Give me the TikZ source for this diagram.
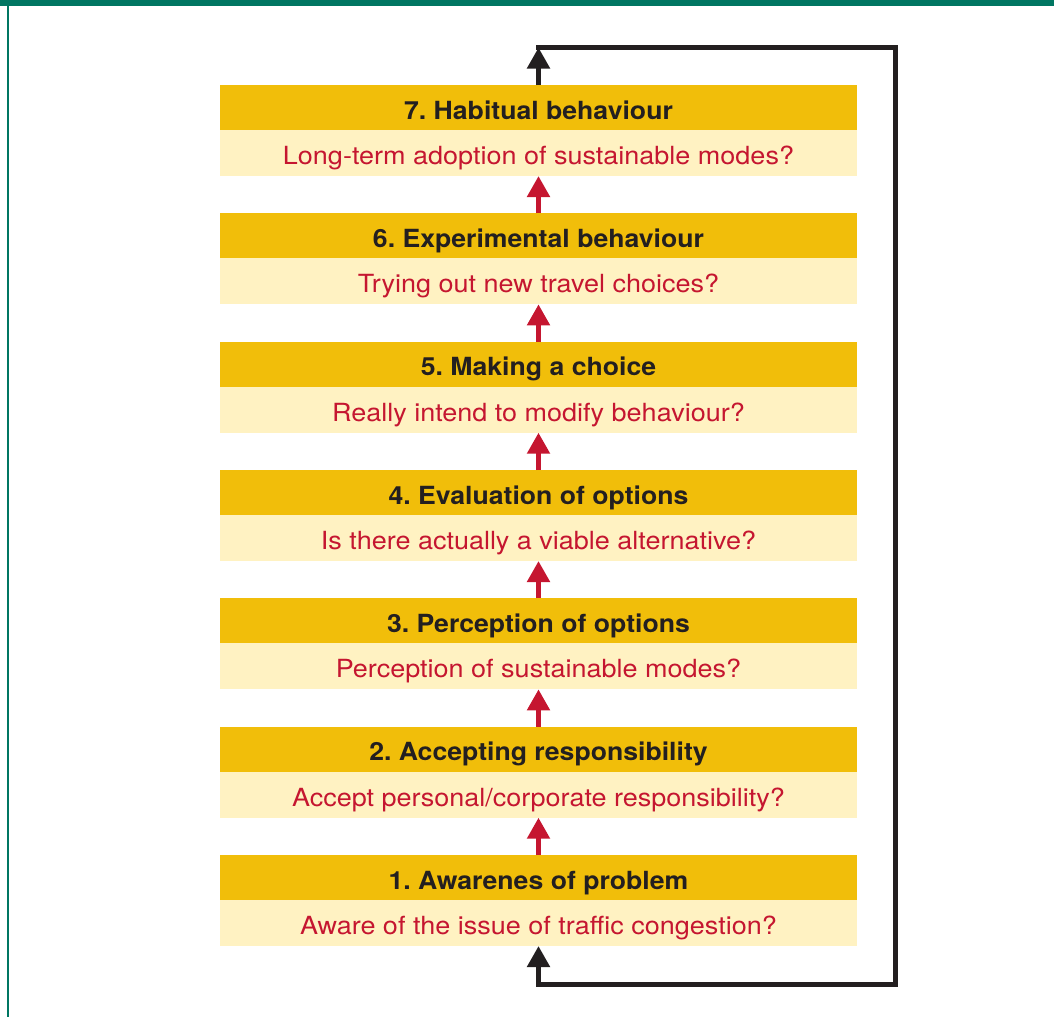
\documentclass[tikz,border=0pt]{standalone}
\usepackage{fontspec}
\setmainfont{TeX Gyre Heros}
\newfontfamily\stagebodyfont[FakeStretch=1.08]{TeX Gyre Heros}
\newfontfamily\stageheadfont[FakeStretch=1.065]{TeX Gyre Heros}
\usetikzlibrary{positioning,arrows.meta}

\definecolor{stagegold}{RGB}{241,190,10}
\definecolor{stagecream}{RGB}{255,242,194}
\definecolor{stagered}{RGB}{197,22,48}
\definecolor{loopblack}{RGB}{35,31,32}
\definecolor{framegreen}{RGB}{0,118,98}

\tikzset{every picture/.style={line width=0.75pt}}
\tikzset{
  stagehead/.style={fill=stagegold, text=loopblack, font=\stageheadfont\fontsize{18.75}{22}\selectfont\bfseries\frenchspacing,
    minimum width=477.75pt, minimum height=33.75pt, inner sep=0pt, outer sep=0pt, text height=17.25pt, text depth=0pt},
  stagebody/.style={fill=stagecream, text=stagered, font=\stagebodyfont\fontsize{18.75}{22}\selectfont\frenchspacing,
    minimum width=477.75pt, minimum height=34.5pt, inner sep=0pt, outer sep=0pt, text height=17.25pt, text depth=0pt},
  uparrow/.style={draw=stagered, line width=3.75pt, -{Triangle[width=16.5pt,length=15.75pt]}},
  looparrow/.style={draw=loopblack, line width=3.75pt, -{Triangle[width=16.5pt,length=15.75pt]}}
}

\begin{document}
\begin{tikzpicture}[x=0.75pt,y=0.75pt,yscale=-1,xscale=1]
\useasboundingbox (0,0) rectangle (1054,1017);

%Shape: Frame
\fill [framegreen] (0,0) rectangle (1054,6);
\draw [framegreen, line width=1.5pt] (7.5,6) -- (7.5,1017);

% Stage 7
\node [stagehead] (h7) at (538.5,107.5) {7. Habitual behaviour};
\node [stagebody, below=0pt of h7] (b7) {Long-term adoption of sustainable modes?};
% Stage 6
\node [stagehead, below=28pt of b7] (h6) {6. Experimental behaviour};
\node [stagebody, below=0pt of h6] (b6) {Trying out new travel choices?};
% Stage 5
\node [stagehead, below=28pt of b6] (h5) {5. Making a choice};
\node [stagebody, below=0pt of h5] (b5) {Really intend to modify behaviour?};
% Stage 4
\node [stagehead, below=28pt of b5] (h4) {4. Evaluation of options};
\node [stagebody, below=0pt of h4] (b4) {Is there actually a viable alternative?};
% Stage 3
\node [stagehead, below=28pt of b4] (h3) {3. Perception of options};
\node [stagebody, below=0pt of h3] (b3) {Perception of sustainable modes?};
% Stage 2
\node [stagehead, below=28pt of b3] (h2) {2. Accepting responsibility};
\node [stagebody, below=0pt of h2] (b2) {Accept personal/corporate responsibility?};
% Stage 1
\node [stagehead, below=28pt of b2] (h1) {1. Awarenes of problem};
\node [stagebody, below=0pt of h1] (b1) {Aware of the issue of traffic congestion?};

%Straight Lines
\foreach \lo/\hi in {1/2,2/3,3/4,4/5,5/6,6/7}
  \draw [uparrow] (h\lo.north) -- (b\hi.south);

%Loop back
\coordinate (looptop) at (895.5,47.5);
\coordinate (loopbottom) at (895.5,984.5);
\draw [looparrow] (h7.north) -- (h7.north |- looptop);
\draw [looparrow, line cap=rect] (h7.north |- looptop) -- (looptop) -- (loopbottom) -- (b1.south |- loopbottom) -- (b1.south);

\end{tikzpicture}
\end{document}
